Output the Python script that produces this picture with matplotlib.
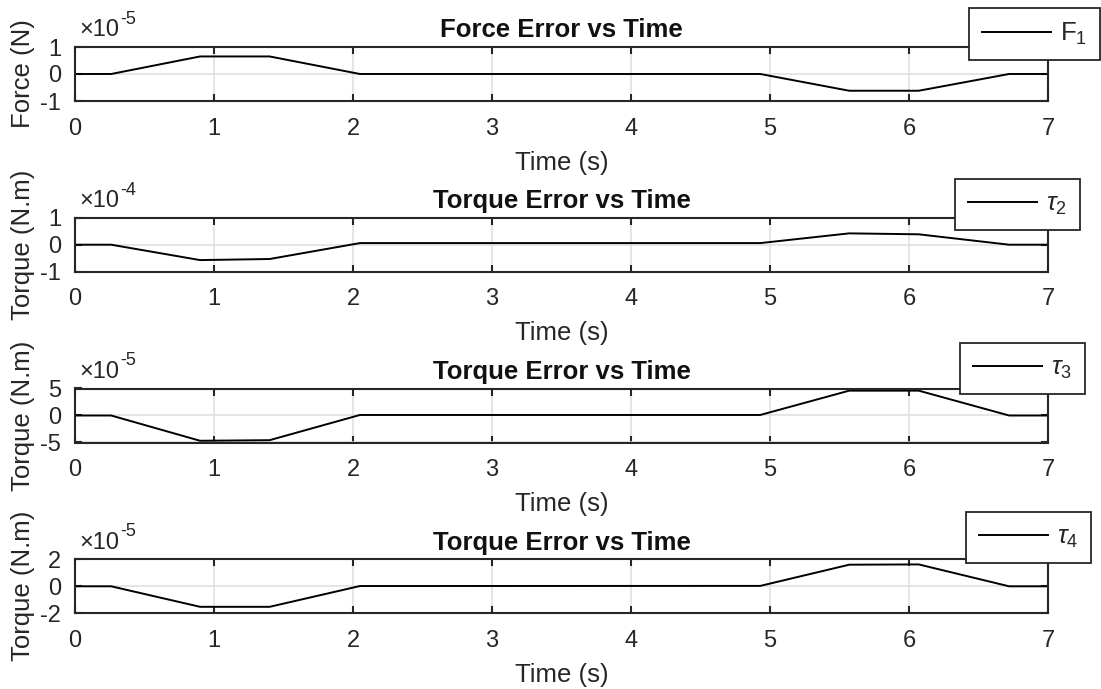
import matplotlib
matplotlib.use('Agg')
import matplotlib.pyplot as plt
from matplotlib.ticker import FuncFormatter

plt.rcParams['font.family'] = ['Liberation Sans', 'DejaVu Sans']
plt.rcParams['mathtext.fontset'] = 'custom'
plt.rcParams['mathtext.rm'] = 'Liberation Sans'
plt.rcParams['mathtext.it'] = 'Liberation Sans:italic'
plt.rcParams['axes.unicode_minus'] = False

# time breakpoints (s)
t = [0, 0.26, 0.9, 1.4, 2.05, 4.93, 5.57, 6.07, 6.72, 7.0]

# error signals
f1 = [0, 0, 0.65e-5, 0.65e-5, 0, 0, -0.62e-5, -0.62e-5, 0, 0]
tau2 = [0, 0, -0.57e-4, -0.53e-4, 0.06e-4, 0.06e-4, 0.42e-4, 0.385e-4, 0, 0]
tau3 = [0, 0, -4.68e-5, -4.57e-5, 0.1e-5, 0.1e-5, 4.6e-5, 4.6e-5, 0, 0]
tau4 = [0, 0, -1.52e-5, -1.52e-5, 0.02e-5, 0.03e-5, 1.6e-5, 1.62e-5, 0, 0]

series = [f1, tau2, tau3, tau4]
labels = ['F$_1$', r'$\tau_2$', r'$\tau_3$', r'$\tau_4$']
titles = ['Force Error vs Time', 'Torque Error vs Time', 'Torque Error vs Time', 'Torque Error vs Time']
ylabels = ['Force (N)', 'Torque (N.m)', 'Torque (N.m)', 'Torque (N.m)']
ylims = [1, 1, 5, 2]
exps = [-5, -4, -5, -5]
xticks = [0, 1, 2, 3, 4, 5, 6, 7]

W, H = 1101, 689
tops = [47, 217.7, 388.5, 559.3]
leg_pos = [(1100, 8), (1080, 179), (1085, 343), (1091, 512)]
dark = '#262626'

fig = plt.figure(figsize=(W / 100, H / 100), dpi=100)

for i in range(4):
    top = tops[i]
    scale = 10.0 ** exps[i]
    lim = ylims[i] * scale
    ax = fig.add_axes([75 / W, 1 - (top + 54) / H, 973 / W, 54 / H])
    ax.plot(t, series[i], color='black', lw=1.4, label=labels[i])
    ax.set_xlim(0, 7)
    ax.set_ylim(-lim, lim)
    ax.set_xticks(xticks)
    ax.set_yticks([-lim, 0, lim])
    ax.yaxis.set_major_formatter(FuncFormatter(lambda v, p, s=scale: '%d' % round(v / s)))
    # exponent label like "x10^-5" above the axes
    base = ax.annotate('\u00d710', xy=(0, 1), xycoords='axes fraction',
                       xytext=(3, 4), textcoords='offset points',
                       fontsize=17, color=dark, ha='left', va='bottom')
    ax.annotate(str(exps[i]), xy=(1, 0.62), xycoords=base,
                xytext=(1, 0), textcoords='offset points',
                fontsize=13, color=dark, ha='left', va='bottom')
    ax.grid(True, color='#dedede', lw=1.1)
    ax.set_axisbelow(True)
    for sp in ax.spines.values():
        sp.set_color(dark)
        sp.set_linewidth(1.5)
    ax.tick_params(direction='in', top=True, right=True, length=5, width=1.5,
                   color=dark, labelcolor=dark, labelsize=17)
    ax.tick_params(axis='x', pad=12)
    ax.tick_params(axis='y', pad=10)
    ax.set_xlabel('Time (s)', fontsize=18.5, color=dark, labelpad=8)
    ax.set_ylabel(ylabels[i], fontsize=18.5, color=dark, labelpad=4)
    ax.set_title(titles[i], fontsize=18.5, fontweight='bold', color='#111111', pad=7)
    lx, ly = leg_pos[i]
    leg = ax.legend(loc='upper right', bbox_to_anchor=(lx / W, 1 - ly / H),
                    bbox_transform=fig.transFigure, borderaxespad=0,
                    fancybox=False, framealpha=1, edgecolor=dark,
                    fontsize=18.5, handlelength=2.7, handletextpad=0.35,
                    borderpad=0.5)
    leg.get_frame().set_linewidth(1.3)
    leg.set_zorder(10)
    for txt in leg.get_texts():
        txt.set_color(dark)

fig.savefig('out.png', dpi=100)
